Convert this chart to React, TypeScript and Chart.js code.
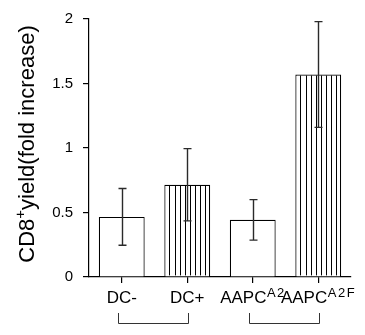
import React, { useEffect, useRef } from "react";
import { Chart, registerables } from "chart.js";

Chart.register(...registerables);

// ---- data ----
const categories = ["DC-", "DC+", "AAPC", "AAPC"];
const categorySuperscripts = ["", "", "A2", "A2F"];
const values = [0.466, 0.715, 0.443, 1.57];
const errors = [0.22, 0.28, 0.157, 0.41];
const hatched = [false, true, false, true];
const yTickValues = [0, 0.5, 1, 1.5, 2];
const yTickLabels = ["0", "0.5", "1", "1.5", "2"];
const bracketPairs = [
  [0, 1],
  [2, 3],
];
const yTitleParts = ["CD8", "+", "yield(fold increase)"];

const FONT = "'Liberation Sans', Arial, Helvetica, sans-serif";

const overlayPlugin = {
  id: "overlay",
  afterDatasetsDraw(chart: any) {
    const ctx: CanvasRenderingContext2D = chart.ctx;
    const meta = chart.getDatasetMeta(0);
    const yScale = chart.scales.y;
    ctx.save();
    // hatching
    meta.data.forEach((bar: any, i: number) => {
      if (!hatched[i]) return;
      const w = bar.width;
      const top = bar.y;
      const base = bar.base;
      ctx.strokeStyle = "#000";
      ctx.lineWidth = 1;
      const n = 9;
      for (let k = 1; k < n; k++) {
        const lx = Math.round(bar.x - w / 2 + (k * w) / n) + 0.5;
        ctx.beginPath();
        ctx.moveTo(lx, top + 1);
        ctx.lineTo(lx, base - 1);
        ctx.stroke();
      }
    });
    // error bars
    meta.data.forEach((bar: any, i: number) => {
      const x = Math.round(bar.x) + 0.5;
      const yHi = yScale.getPixelForValue(values[i] + errors[i]);
      const yLo = yScale.getPixelForValue(values[i] - errors[i]);
      ctx.strokeStyle = "#2a2a2a";
      ctx.lineWidth = 1.4;
      ctx.beginPath();
      ctx.moveTo(x, yHi);
      ctx.lineTo(x, yLo);
      ctx.moveTo(x - 4, yHi);
      ctx.lineTo(x + 4, yHi);
      ctx.moveTo(x - 4, yLo);
      ctx.lineTo(x + 4, yLo);
      ctx.stroke();
    });
    ctx.restore();
  },
  afterDraw(chart: any) {
    const ctx: CanvasRenderingContext2D = chart.ctx;
    const xScale = chart.scales.x;
    ctx.save();
    ctx.fillStyle = "#000";
    ctx.textBaseline = "alphabetic";
    ctx.textAlign = "left";
    const setMain = () => {
      ctx.font = `17px ${FONT}`;
      (ctx as any).letterSpacing = "0px";
    };
    const setSup = () => {
      ctx.font = `13px ${FONT}`;
      (ctx as any).letterSpacing = "1.5px";
    };
    // x labels with superscripts
    const labelBaseline = xScale.bottom - 32;
    categories.forEach((cat, i) => {
      const cx = xScale.getPixelForValue(i);
      setMain();
      const w1 = ctx.measureText(cat).width;
      setSup();
      const sup = categorySuperscripts[i];
      const w2 = sup ? ctx.measureText(sup).width : 0;
      const start = cx - (w1 + w2) / 2;
      setMain();
      ctx.fillText(cat, start, labelBaseline);
      if (sup) {
        setSup();
        ctx.fillText(sup, start + w1 + 0.5, labelBaseline - 6.5);
      }
    });
    (ctx as any).letterSpacing = "0px";
    // brackets
    ctx.strokeStyle = "#333";
    ctx.lineWidth = 1;
    const bTop = labelBaseline + 10;
    const bBottom = labelBaseline + 20;
    bracketPairs.forEach(([a, b]) => {
      const xa = Math.round(xScale.getPixelForValue(a)) - 3.5;
      const xb = Math.round(xScale.getPixelForValue(b)) + 1.5;
      ctx.beginPath();
      ctx.moveTo(xa, bTop);
      ctx.lineTo(xa, bBottom + 0.5);
      ctx.lineTo(xb, bBottom + 0.5);
      ctx.lineTo(xb, bTop);
      ctx.stroke();
    });
    // y title with superscript, rotated
    const yScale = chart.scales.y;
    const midY = (yScale.top + yScale.bottom) / 2 - 4;
    ctx.font = `22px ${FONT}`;
    const a = ctx.measureText(yTitleParts[0]).width;
    const c = ctx.measureText(yTitleParts[2]).width;
    ctx.font = `15px ${FONT}`;
    const b = ctx.measureText(yTitleParts[1]).width;
    const total = a + b + c;
    ctx.translate(34, midY);
    ctx.rotate(-Math.PI / 2);
    let px = -total / 2;
    ctx.font = `22px ${FONT}`;
    ctx.fillText(yTitleParts[0], px, 0);
    px += a;
    ctx.font = `15px ${FONT}`;
    ctx.fillText(yTitleParts[1], px, -9);
    px += b;
    ctx.font = `22px ${FONT}`;
    ctx.fillText(yTitleParts[2], px, 0);
    ctx.restore();
  },
};

export default function App() {
  const ref = useRef<HTMLCanvasElement | null>(null);
  useEffect(() => {
    if (!ref.current) return;
    const chart = new Chart(ref.current, {
      type: "bar",
      data: {
        labels: categories.map((c, i) => c + categorySuperscripts[i]),
        datasets: [
          {
            data: values,
            backgroundColor: "#ffffff",
            borderColor: "#000000",
            borderWidth: 1.2,
            categoryPercentage: 1,
            barPercentage: 0.7,
          },
        ],
      },
      options: {
        animation: false,
        responsive: false,
        maintainAspectRatio: false,
        layout: { padding: { top: 15, right: 14, left: 0, bottom: 0 } },
        plugins: {
          legend: { display: false },
          tooltip: { enabled: false },
          title: { display: false },
        },
        scales: {
          x: {
            offset: true,
            grid: {
              offset: false,
              drawOnChartArea: false,
              drawTicks: true,
              tickLength: 6,
              color: "#000",
              lineWidth: 1.2,
            },
            border: { display: true, color: "#000", width: 1.2 },
            ticks: { display: false },
            afterFit: (s: any) => {
              s.height = 58;
            },
          },
          y: {
            min: 0,
            max: 2,
            afterBuildTicks: (s: any) => {
              s.ticks = yTickValues.map((v) => ({ value: v }));
            },
            grid: {
              drawOnChartArea: false,
              drawTicks: true,
              tickLength: 6,
              color: "#000",
              lineWidth: 1.2,
            },
            border: { display: true, color: "#000", width: 1.2 },
            ticks: {
              color: "#000",
              padding: 10,
              font: { family: FONT, size: 15 },
              callback: (_v: any, idx: number) => yTickLabels[idx],
            },
            afterFit: (s: any) => {
              s.width = 89;
            },
          },
        },
      },
      plugins: [overlayPlugin],
    });
    return () => chart.destroy();
  }, []);
  return (
    <div style={{ position: "fixed", left: 0, top: 0, width: 365, height: 335, background: "#fff" }}>
      <canvas ref={ref} width={365} height={335} style={{ width: 365, height: 335 }} />
    </div>
  );
}
